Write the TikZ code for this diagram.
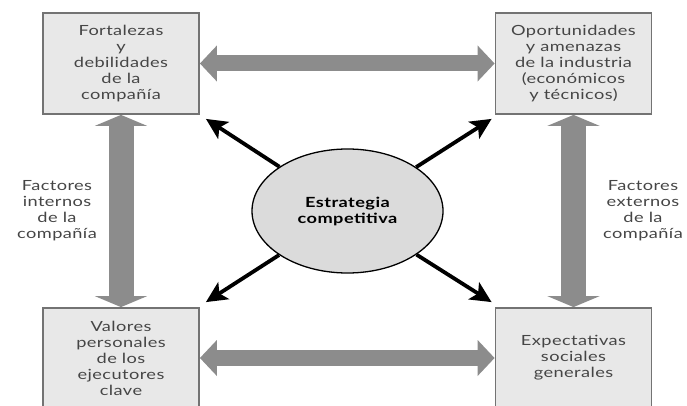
\documentclass[tikz,border=0pt]{standalone}
\usepackage{fontspec}
\setmainfont[FakeStretch=1.3,LetterSpace=3]{Lato}
\usetikzlibrary{arrows.meta,shapes.geometric,calc}
\definecolor{boxfill}{gray}{0.91}
\definecolor{boxline}{gray}{0.45}
\definecolor{blockgray}{gray}{0.55}
\definecolor{ellfill}{gray}{0.86}
\definecolor{txt}{gray}{0.27}
\begin{document}
\begin{tikzpicture}[x=1pt,y=-1pt,
  factorbox/.style={draw=boxline, line width=1.8pt, fill=boxfill,
    minimum width=156pt, minimum height=101pt, inner sep=0pt,
    align=center, text=txt, font=\fontsize{14}{16}\selectfont},
  sidelabel/.style={align=center, text=txt, font=\fontsize{14}{16}\selectfont},
  hblock/.style={draw=blockgray, line width=16pt,
    {Triangle[length=17pt,width=35pt]}-{Triangle[length=17pt,width=35pt]}},
  vblock/.style={draw=blockgray, line width=25pt,
    {Triangle[length=11pt,width=52pt]}-{Triangle[length=11pt,width=52pt]}},
  influence/.style={draw=black, line width=3.8pt,
    -{Stealth[length=21pt,width=20pt,inset=5pt]}}]
\useasboundingbox (0,0) rectangle (687,406);
\fill[white] (0,0) rectangle (687,406);

% four groups of factors
\node[factorbox] (tl) at (121,63.5) {Fortalezas\\y\\debilidades\\de la\\compañía};
\node[factorbox] (tr) at (573.5,63.5) {Oportunidades\\y amenazas\\de la industria\\(económicos\\y técnicos)};
\node[factorbox, minimum height=100pt] (bl) at (121,358) {Valores\\personales\\de los\\ejecutores\\clave};
\node[factorbox, minimum height=100pt] (br) at (573.5,358) {Expectativas\\sociales\\generales};

% central strategy
\node[ellipse, draw=black, line width=1.3pt, fill=ellfill, minimum width=191pt,
  minimum height=124pt, inner sep=0pt, align=center,
  font=\fontsize{14}{16}\selectfont\bfseries] (el) at (347.5,211) {Estrategia\\competitiva};

% side labels
\node[sidelabel] (intl) at (57,211) {Factores\\internos\\de la\\compañía};
\node[sidelabel] (extl) at (643,211) {Factores\\externos\\de la\\compañía};

% broad two-way arrows between the boxes
\draw[hblock] (tl.east) -- (tr.west);
\draw[hblock] (bl.east) -- (br.west);
\draw[vblock] (tl.south) -- (bl.north);
\draw[vblock] (tr.south) -- (br.north);

% arrow ends near the inner box corners
\coordinate (ctl) at ($(tl.south east)+(6,4)$);
\coordinate (ctr) at ($(tr.south west)+(-3,4)$);
\coordinate (cbl) at ($(bl.north east)+(6,-5)$);
\coordinate (cbr) at ($(br.north west)+(-3,-5)$);

\draw[influence] (el) -- (ctl);
\draw[influence] (el) -- (ctr);
\draw[influence] (el) -- (cbl);
\draw[influence] (el) -- (cbr);
\end{tikzpicture}
\end{document}
